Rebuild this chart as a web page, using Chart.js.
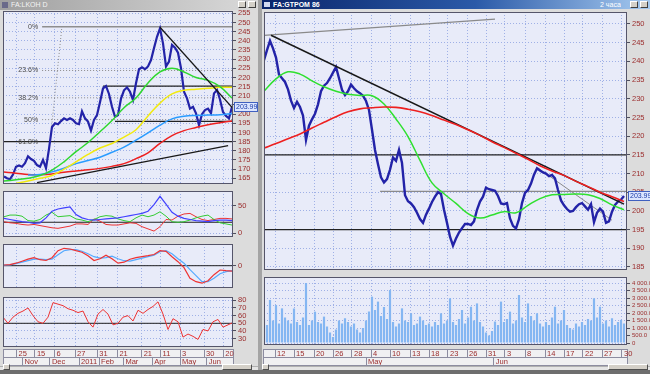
<!DOCTYPE html>
<html><head><meta charset="utf-8">
<script src="https://cdn.jsdelivr.net/npm/chart.js@4.4.1/dist/chart.umd.min.js"></script>
<style>
html,body{margin:0;padding:0;}
body{width:650px;height:374px;overflow:hidden;position:relative;background:#a4a4a4;font-family:'Liberation Sans',Arial,sans-serif;}
div,canvas{position:absolute;box-sizing:border-box;}
.win{background:#dcdcdc;}
.strip{background:#f0f0f2;border:1px solid #8c8ca0;}
.ttl{font-size:7px;line-height:9px;white-space:nowrap;overflow:hidden;}
.btn{background:#d4d0c8;border:1px solid;border-color:#fff #404040 #404040 #fff;width:8px;height:7px;top:1px;}
.sb{background:#e4e4e4;border-top:1px solid #b0b0b0;}
.sbb{background:#d4d0c8;border:1px solid;border-color:#fff #505050 #505050 #fff;height:6px;}
</style></head><body>
<div class="win" style="left:0;top:0;width:258px;height:370px"></div>
<div class="win" style="left:262px;top:0;width:388px;height:370px"></div>
<div style="left:0;top:370px;width:650px;height:4px;background:#6e6e6e"></div>
<div class="ttl" style="left:0;top:0;width:258px;height:10px;background:linear-gradient(90deg,#a0a0a0,#dadada);color:#f4f4f4;padding-left:11px">FA:LKOH D</div>
<div style="left:2px;top:2px;width:6px;height:6px;background:#6a6a8a"></div>
<div class="btn" style="left:238px"></div><div class="btn" style="left:248px"></div>
<div class="ttl" style="left:262px;top:0;width:388px;height:9px;background:linear-gradient(90deg,#0a246a,#2b5aa8 55%,#a6caf0);color:#fff;font-weight:bold;padding-left:11px">FA:GTPOM 86</div>
<div style="left:264px;top:2px;width:6px;height:5px;background:#d0d8f0"></div>
<div class="ttl" style="left:600px;top:0;height:9px;color:#fff;">2 часа</div>
<div class="btn" style="left:630px"></div><div class="btn" style="left:640px"></div>
<div class="strip" style="left:3px;top:349px;width:231px;height:17px"></div>
<div class="strip" style="left:263px;top:349px;width:365px;height:17px"></div>
<div class="sb" style="left:0;top:366px;width:258px;height:4px"></div>
<div class="sb" style="left:262px;top:366px;width:388px;height:4px"></div>
<div class="sbb" style="left:3px;top:364px;width:7px"></div>
<div class="sbb" style="left:222px;top:364px;width:30px"></div>
<div class="sbb" style="left:262px;top:364px;width:7px"></div>
<div class="sbb" style="left:608px;top:364px;width:40px"></div>
<script>
// ================= DATA =================
// ---- left window (daily) ----
const lPrice = [166,165,164.5,167,171.3,172,171.3,173.2,177,175.5,
  174.5,172.2,171.3,175,170.5,181,193,195,194.5,196.2,
  197.7,196.8,197.7,196.8,195,194.5,201.5,197.7,195.9,191,
  196.8,199.5,206.5,214,215.3,211,204,198.5,199.5,208.5,
  213,214.6,212.2,207.7,216.8,224.5,225.5,224.5,226,229.5,
  236,242.2,246.8,238.6,226,228.6,237.7,236.2,233.5,225,
  212.2,208.6,203,204,200.4,194,200,202.2,203,200.5,
  211.3,213.2,208,201.2,199,197.7,203.99];
const lGreen  = [163.5,164.2,165,166.5,169.5,174,179.5,184.5,190.4,196.5,203.5,208.8,217,223,225,223,220,218.4,215,208.8];
const lYellow = [null,162.3,163.5,165,166.5,170,174,178,181.5,184,187.5,191.5,199,206,211,213,213.6,214.1,214.6,214.6];
const lBlue   = [null,null,166.8,167,168.5,170.5,173,174.7,176.5,179.2,182,185.8,189.8,194,197.4,198.8,199.3,199.5,199.7,200.3];
const lRed    = [168.4,167.8,167,166.9,167.3,168.3,169,169.6,170.4,171.5,173,175.7,178.9,184,188.3,191,192.7,194.2,195.3,196.3];
const lAdxBlue  = [27,25,23,21,20,18,19,28,40,44,46,48,34,28,25,24,25,26,27,28,30,32,34,36,40,52,67,53,38,31,27,25,23,22,21,23,24,24,23];
const lAdxGreen = [30,33,33,31,23,22,25,33,38,30,31,32,26,24,21,25,30,32,31,26,23,21,28,33,30,33,39,31,21,20,21,24,28,31,33,25,19,17,15];
const lAdxRed   = [21,19,18,16,15,16,14,12,10,9,11,13,17,17,16,26,22,16,15,15,17,19,18,12,8,4,12,25,24,31,35,36,30,25,23,25,27,27,26];
const lMacd       = [0.7,1,2.5,4.5,6.5,8,6,5.2,8,15,17.4,16.7,15,13.5,10,5.2,7,10.5,7,2.5,3.5,6.5,8,9,10,11.2,15,14.3,9,4,-2,-12.7,-16,-17.5,-15,-9,-4.3,-5,-5.5];
const lMacdSignal = [0.5,0.8,2,3.5,5,6.5,6.5,6,6.5,11,15,16,16,14.5,12,9,7.5,8,9.5,7,5,4.5,6,7.5,9,10.5,14,15,12,7,2.5,-4,-10,-16,-16,-12.5,-8,-6,-5];
const lRsi = [58,50,58,63,66,70,60,52,50,58,77,75,73,69,67,64,66,52,45,62,68,62,48,50,58,60,53,67,63,68,72,78,62,42,56,52,32,36,33,29,42,40,52,55,45,48,51];
const lPriceTicks = [165,170,175,180,185,190,195,200,205,210,215,220,225,230,235,240,245,250,255];
const lAdxTicks = [0,50];
const lMacdTicks = [0];
const lRsiTicks = [30,40,50,60,70,80];
const lDateTicks  = [4.2,10.3,16.8,23.7,31.1,37.8,45.9,52.2,58.7,66.7,73.1];
const lDateLabels = ['25','15','6','27','31','21','21','11','3','30','20'];
const lMonthTicks  = [6.2,15.3,25,31.7,39.8,49.4,58.7,67.6];
const lMonthLabels = ['Nov','Dec','2011','Feb','Mar','Apr','May','Jun'];
const fibLevels = [247.7,223.8,208.9,197,185];
const fibLabels = ['0%','23.6%','38.2%','50%','61.8%'];
const fibStart = 12.7;
const fibLeg = [15.3,184,19.3,247.7];
const lResistance = [33,215.3,77,215.3];
const lSupport = [37,196,77,196];
const lLevel185 = [-1,185,77,185];
const lUpTrend = [11,162.6,74.7,182.8];
const lDownTrend = [52,247.4,76.3,203.2];
const lLast = 203.99;

// ---- right window (2-hour bars) ----
const rPrice = [240.3,243,245.5,243.5,241,236.5,235.5,234.5,232.5,229.5,
  227.5,229.2,227.8,225.5,219,222.8,224.5,226,228.5,232,
  233.5,234.2,235.5,237,238.5,235.5,232.4,231,232,233.8,
  232.8,232,231.5,230.8,229.4,227,221.7,216.3,212.5,209,
  207.6,208.5,211,214.3,213.4,216.3,212.8,204.2,202.6,202,
  201,199.5,197.8,196.8,199,200.6,202.4,203.8,205,204.5,
  200.3,196.8,193.1,190.7,192.6,194.2,195.4,196.5,196.5,196.2,
  197.2,200.3,202.5,203.8,206.2,205.8,205.6,205.4,204,202,
  201.8,202.1,198,196,195.3,197.8,202.1,204.8,205.6,207.3,
  209.7,211.4,210.8,210.3,210,209.3,209.6,208.7,205.6,202.8,
  201.5,200.5,199.8,200,201,201.8,202.1,201.2,200.3,201.8,
  197,199.5,200.6,199.8,196.8,197.2,199.8,201.6,202.5,203,
  203.99];
const rGreen = [232,235.3,237.2,236.6,234.8,233.2,232,231.2,230.9,230.8,228.6,224.6,219.9,213.5,207.5,204.6,202,199.3,198.1,198.9,199.8,199.5,201.5,203.3,204.3,204.4,204.5,204.3,203.3,201.6,200.3];
const rRed   = [216.8,218,219.3,220.6,222.2,223.7,225.2,226.5,227.3,227.6,227.8,227.7,227.2,226.5,225.5,224.3,223.1,221.7,220.2,218.5,217,215.4,213.8,212.1,210.7,209.5,207.9,206.5,205,203.8,202.5];
const rVolume = [1600,1200,2870,1500,2530,1300,2310,1700,1500,1300,
  2300,1400,1200,1700,4000,1200,1500,2090,1400,1300,
  1760,1100,700,400,900,1500,1300,1650,1400,1100,
  1300,900,700,1000,1500,2100,3090,2200,2760,1800,
  2400,1600,3530,1400,1100,1300,2310,1500,1400,1980,
  1200,1300,1760,1500,1200,1300,1100,1400,1200,1980,
  1300,1500,2980,1400,1200,1600,2200,1300,1700,2420,
  1500,2640,1400,1100,700,500,800,1430,1200,2760,
  1400,1600,2090,1300,1500,3200,1700,1400,2640,1800,
  1500,1980,1300,1100,1400,1200,1700,2420,1300,1500,
  2200,1200,1000,900,1300,1100,1400,1200,1600,1500,
  2980,1700,2420,1300,1500,1100,1650,1200,1400,1540,
  1300];
const rPriceTicks = [185,190,195,200,205,210,215,220,225,230,235,240,245,250];
const rVolTicks = [0,500,1000,1500,2000,2500,3000,3500,4000];
const rDateTicks  = [3.67,10,16.67,23,29.33,35.67,42,48.67,55,61.33,67.67,74,80.33,87,93.67,100,106.33,112.67,119.33];
const rDateLabels = ['12','15','20','26','28','4','10','13','18','23','26','31','3','8','14','17','22','27','30'];
const rMonthTicks  = [34,76.6];
const rMonthLabels = ['May','Jun'];
const rDownTrend = [2.33,247,120,201.8];
const rGreyUp = [-0.67,246.9,77,251.3];
const rLevel215 = [-1,215,122,215];
const rLevel195 = [-1,195,122,195];
const rLevel205 = [38.7,205.2,122,205.2];
const rShortTrend = [91.3,211.5,116,197.5];
const rLast = 203.99;

// ================= STYLE / HELPERS =================
const LABEL = '#9b2c2c', GRID = '#9fb0e6', BG = '#e8ebf9', FRAME = '#55556a';
const FONT = "'Liberation Sans', Arial, sans-serif";
Chart.defaults.font.family = FONT;
Chart.defaults.font.size = 7.5;
Chart.defaults.color = LABEL;

const pts = (vals, start, step) => vals.map((v, k) => ({x: start + k * step, y: v}));
const seg = a => [{x: a[0], y: a[1]}, {x: a[2], y: a[3]}];
function line(data, color, width, extra) {
  return Object.assign({type: 'line', data, borderColor: color, backgroundColor: color, borderWidth: width,
    pointRadius: 0, fill: false, tension: 0, spanGaps: false}, extra || {});
}
function stackOrder(arr) { arr.forEach((d, i) => d.order = arr.length - i); return arr; }

const framePlugin = {
  id: 'frame',
  beforeDraw(chart) {
    const {ctx, chartArea: a} = chart;
    ctx.save(); ctx.fillStyle = BG; ctx.fillRect(a.left, a.top, a.width, a.height); ctx.restore();
  },
  afterDraw(chart) {
    const {ctx, chartArea: a} = chart;
    ctx.save(); ctx.strokeStyle = FRAME; ctx.lineWidth = 1;
    ctx.strokeRect(a.left + 0.5, a.top + 0.5, a.width - 1, a.height - 1); ctx.restore();
  }
};
const tagPlugin = {
  id: 'tag',
  afterDraw(chart, args, o) {
    if (o.value == null) return;
    const {ctx, chartArea: a} = chart;
    const y = Math.round(chart.scales.y.getPixelForValue(o.value));
    const x = a.right + 1, w = o.w || 24;
    ctx.save();
    ctx.fillStyle = '#dce6ff'; ctx.fillRect(x, y - 5, w, 10);
    ctx.strokeStyle = '#4060c0'; ctx.lineWidth = 1; ctx.strokeRect(x + 0.5, y - 4.5, w - 1, 9);
    ctx.fillStyle = '#1838a8'; ctx.font = '7px ' + FONT; ctx.textBaseline = 'middle';
    ctx.fillText(o.text, x + 2, y + 0.5);
    ctx.restore();
  }
};
const fibPlugin = {
  id: 'fibText',
  afterDatasetsDraw(chart, args, o) {
    if (!o.show) return;
    const {ctx, scales: {x, y}} = chart;
    ctx.save(); ctx.font = '7px ' + FONT; ctx.fillStyle = '#4a4a4a';
    ctx.textAlign = 'right'; ctx.textBaseline = 'middle';
    const px = x.getPixelForValue(fibStart) - 4;
    fibLevels.forEach((lv, i) => ctx.fillText(fibLabels[i], px, y.getPixelForValue(lv)));
    ctx.restore();
  }
};

function xGrid(min, max, ticks) {
  return {type: 'linear', min, max, offset: false,
    afterBuildTicks: s => { s.ticks = ticks.map(v => ({value: v})); },
    afterFit: s => { s.height = 0; s.paddingLeft = 0; s.paddingRight = 0; },
    ticks: {display: false},
    grid: {color: GRID, lineWidth: 1, drawTicks: false, offset: false},
    border: {display: false, dash: [1, 2]}};
}
function yAxis(min, max, ticks, fmt, w, fontSize) {
  return {type: 'linear', position: 'right', min, max,
    afterBuildTicks: s => { s.ticks = ticks.map(v => ({value: v})); },
    afterFit: s => { s.width = w; s.paddingTop = 0; s.paddingBottom = 0; },
    grid: {color: GRID, lineWidth: 1, drawTicks: true, tickLength: 3, tickColor: '#505060', tickBorderDash: [], tickWidth: 1},
    border: {display: false, dash: [1, 2]},
    ticks: {padding: 2, color: LABEL, autoSkip: false, font: {size: fontSize || 7.5}, callback: fmt || (v => String(v))}};
}
function panel(p) {
  const PAD = 6;
  const cv = document.createElement('canvas');
  cv.width = p.w + p.axisW; cv.height = p.h + 2 * PAD;
  cv.style.left = p.x + 'px'; cv.style.top = (p.y - PAD) + 'px';
  document.body.appendChild(cv);
  return new Chart(cv, {
    type: p.type || 'line',
    data: {datasets: p.datasets},
    options: {
      responsive: false, animation: false, events: [], devicePixelRatio: 1,
      layout: {padding: {top: PAD, bottom: PAD, left: 0, right: 0}},
      plugins: {legend: {display: false}, tooltip: {enabled: false}, tag: p.tag || {}, fibText: {show: !!p.fib}},
      scales: {x: xGrid(p.xr[0], p.xr[1], p.xTicks), y: yAxis(p.yr[0], p.yr[1], p.yTicks, p.yFmt, p.axisW, p.yFont)}
    },
    plugins: [framePlugin, tagPlugin, fibPlugin]
  });
}
function dateAxis(min, max, ticks, labels, weight) {
  return {type: 'linear', position: 'bottom', weight, min, max, offset: false,
    afterBuildTicks: s => { s.ticks = ticks.map(v => ({value: v})); },
    afterFit: s => { s.height = 8; s.paddingLeft = 0; s.paddingRight = 0; },
    grid: {drawOnChartArea: false, drawTicks: true, tickLength: 8, color: '#8c8ca0', tickColor: '#8c8ca0', offset: false},
    border: {display: true, color: '#8c8ca0'},
    ticks: {align: 'start', labelOffset: 2, padding: -8, autoSkip: false, maxRotation: 0, minRotation: 0,
      color: LABEL, callback: (v, i) => labels[i]}};
}
function timeline(p) {
  const cv = document.createElement('canvas');
  cv.width = p.w + 10; cv.height = 17;
  cv.style.left = p.x + 'px'; cv.style.top = (p.y - 1) + 'px';
  document.body.appendChild(cv);
  return new Chart(cv, {
    type: 'line', data: {datasets: []},
    options: {
      responsive: false, animation: false, events: [], devicePixelRatio: 1,
      layout: {padding: {top: 0, bottom: 0, left: 0, right: 10}},
      plugins: {legend: {display: false}, tooltip: {enabled: false}},
      scales: {
        x: dateAxis(p.xr[0], p.xr[1], p.dTicks, p.dLabels, 0),
        x2: dateAxis(p.xr[0], p.xr[1], p.mTicks, p.mLabels, 1),
        y: {display: false}
      }
    }
  });
}

// ================= LEFT WINDOW =================
const LX = [-1/3, 229/3];
panel({x: 3, y: 11, w: 230, h: 173, axisW: 25, xr: LX, xTicks: lDateTicks,
  yr: [161.88, 256.25], yTicks: lPriceTicks, tag: {value: lLast, text: lLast.toFixed(2), w: 24}, fib: true,
  datasets: stackOrder([
    line(seg([fibStart, fibLevels[1], 77, fibLevels[1]]), '#8a8a8a', 1, {borderDash: [1, 2]}),
    line(seg([fibStart, fibLevels[2], 77, fibLevels[2]]), '#8a8a8a', 1, {borderDash: [1, 2]}),
    line(seg([fibStart, fibLevels[3], 77, fibLevels[3]]), '#8a8a8a', 1, {borderDash: [1, 2]}),
    line(seg([fibStart, fibLevels[0], 77, fibLevels[0]]), '#8e8e8e', 1.5),
    line(seg(fibLeg), '#8a8a8a', 1, {borderDash: [1, 2]}),
    line(seg(lLevel185), '#222', 1.2),
    line(seg(lResistance), '#222', 1.2),
    line(seg(lSupport), '#222', 1.2),
    line(pts(lPrice, 0, 1), '#2323a8', 2.2, {borderJoinStyle: 'miter'}),
    line(pts(lRed, 0, 4), '#ee2020', 1.5, {tension: 0.4}),
    line(pts(lBlue, 0, 4), '#2a9cff', 1.5, {tension: 0.4}),
    line(pts(lYellow, 0, 4), '#f2ea10', 1.5, {tension: 0.4}),
    line(pts(lGreen, 0, 4), '#2fd82f', 1.5, {tension: 0.4}),
    line(seg(lUpTrend), '#181818', 1.3),
    line(seg(lDownTrend), '#181818', 1.3)
  ])});
panel({x: 3, y: 191, w: 230, h: 46, axisW: 25, xr: LX, xTicks: lDateTicks,
  yr: [-6.7, 76.6], yTicks: lAdxTicks,
  datasets: stackOrder([
    line(seg([-1, 20, 77, 20]), '#222', 1),
    line(pts(lAdxRed, 0, 2), '#ee3333', 1),
    line(pts(lAdxGreen, 0, 2), '#33cc33', 1),
    line(pts(lAdxBlue, 0, 2), '#4040ff', 1.2)
  ])});
panel({x: 3, y: 244, w: 230, h: 44, axisW: 25, xr: LX, xTicks: lDateTicks,
  yr: [-22.3, 21.7], yTicks: lMacdTicks,
  datasets: stackOrder([
    line(seg([-1, 0, 77, 0]), '#222', 1),
    line(pts(lMacdSignal, 0, 2), '#55aaff', 1.2),
    line(pts(lMacd, 0, 2), '#ee3333', 1.2)
  ])});
panel({x: 3, y: 297, w: 230, h: 50, axisW: 25, xr: LX, xTicks: lDateTicks,
  yr: [19.1, 84.3], yTicks: lRsiTicks,
  datasets: stackOrder([
    line(seg([-1, 50, 77, 50]), '#222', 1),
    line(pts(lRsi, -1/3, 5/3), '#ee3333', 1)
  ])});
timeline({x: 3, y: 349, w: 230, xr: LX, dTicks: lDateTicks, dLabels: lDateLabels, mTicks: lMonthTicks, mLabels: lMonthLabels});

// ================= RIGHT WINDOW =================
const RX = [0, 121];
panel({x: 264, y: 12, w: 363, h: 258, axisW: 23, xr: RX, xTicks: rDateTicks,
  yr: [184.19, 253.21], yTicks: rPriceTicks, tag: {value: rLast, text: rLast.toFixed(2), w: 23},
  datasets: stackOrder([
    line(seg(rLevel215), '#222', 1.2),
    line(seg(rLevel195), '#222', 1.2),
    line(seg(rLevel205), '#8a8a8a', 1.2),
    line(seg(rGreyUp), '#8a8a8a', 1.2),
    line(seg(rShortTrend), '#8a8a8a', 1),
    line(pts(rPrice, 0, 1), '#2323a8', 2.4, {borderJoinStyle: 'miter'}),
    line(pts(rGreen, 0, 4), '#2fe02f', 1.5, {tension: 0.4}),
    line(seg(rDownTrend), '#181818', 1.5),
    line(pts(rRed, 0, 4), '#ee2020', 1.6, {tension: 0.4})
  ])});
const volFmt = v => v === 0 ? '0' : (v >= 1000 ? Math.floor(v / 1000) + ' ' + String(v % 1000).padStart(3, '0') : String(v)) + '.0';
panel({x: 264, y: 277, w: 363, h: 68, axisW: 23, type: 'bar', xr: RX, xTicks: rDateTicks,
  yr: [-133, 4400], yTicks: rVolTicks, yFmt: volFmt, yFont: 6,
  datasets: [{type: 'bar', data: pts(rVolume, 0, 1), backgroundColor: '#84b6f2', borderWidth: 0,
    barPercentage: 0.72, categoryPercentage: 1, grouped: false}]});
timeline({x: 264, y: 349, w: 363, xr: RX, dTicks: rDateTicks, dLabels: rDateLabels, mTicks: rMonthTicks, mLabels: rMonthLabels});
</script>
</body></html>
